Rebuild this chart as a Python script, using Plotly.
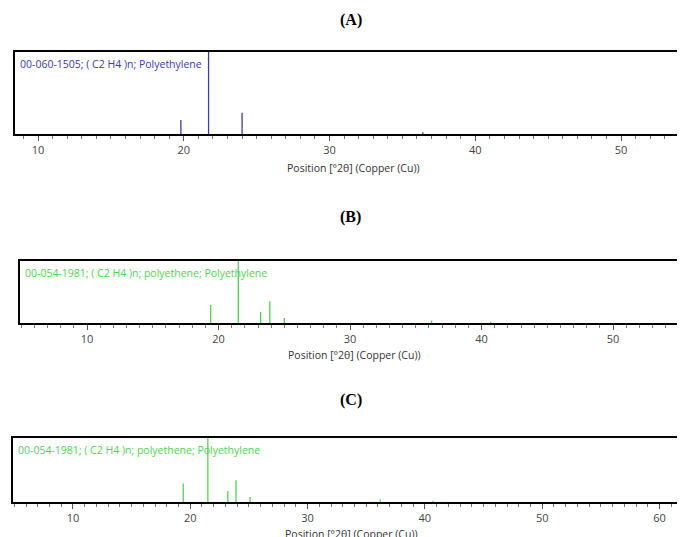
import plotly.graph_objects as go

# peak positions (2theta) and relative intensities
pos_a = [19.8, 21.7, 24.0, 36.4]
int_a = [0.17, 1.0, 0.26, 0.02]
pos_b = [19.4, 21.5, 23.2, 23.9, 25.0, 36.2, 40.7]
int_b = [0.29, 1.0, 0.18, 0.35, 0.08, 0.04, 0.02]
pos_c = [19.4, 21.5, 23.2, 23.9, 25.1, 36.2, 40.7]
int_c = [0.29, 1.0, 0.17, 0.34, 0.08, 0.04, 0.02]

labels = ["00-060-1505; ( C2 H4 )n; Polyethylene",
          "00-054-1981; ( C2 H4 )n; polyethene; Polyethylene",
          "00-054-1981; ( C2 H4 )n; polyethene; Polyethylene"]
titles = ["(A)", "(B)", "(C)"]
colors = ["#3a3ab0", "#4cd64c", "#4cd64c"]

W, H = 685, 537
panels = [
    # box px: x0, x1, y0, y1, xrange, xlabel y, title y
    dict(pos=pos_a, inten=int_a, box=(7, 683, 44, 126), xr=[8.42, 54.8], xl=160, ty=12, dt=10),
    dict(pos=pos_b, inten=int_b, box=(12, 680, 253, 315), xr=[4.9, 55.7], xl=347, ty=209, dt=10),
    dict(pos=pos_c, inten=int_c, box=(5, 682, 430, 494), xr=[4.89, 62.6], xl=526, ty=392, dt=10),
]

fig = go.Figure()
for i, p in enumerate(panels):
    xs, ys = [], []
    for x, y in zip(p["pos"], p["inten"]):
        xs += [x, x, None]
        ys += [0, y, None]
    n = "" if i == 0 else str(i + 1)
    fig.add_trace(go.Scatter(x=xs, y=ys, mode="lines", line=dict(color=colors[i], width=1.3),
                             xaxis="x" + n, yaxis="y" + n, showlegend=False, hoverinfo="skip"))
    x0, x1, y0, y1 = p["box"]
    fig.update_layout(**{
        "xaxis" + n: dict(domain=[x0 / W, x1 / W], range=p["xr"], anchor="y" + n,
                          showline=True, linecolor="black", linewidth=2, mirror=True,
                          showgrid=False, zeroline=False, dtick=p["dt"], tick0=0,
                          ticks="outside", ticklen=5, tickcolor="#555", automargin=False,
                          minor=dict(ticks="outside", ticklen=3, dtick=1, tickcolor="#777"),
                          tickfont=dict(family="Open Sans", size=11, color="#444")),
        "yaxis" + n: dict(domain=[1 - y1 / H, 1 - y0 / H], range=[0, 1.0], anchor="x" + n,
                          showline=True, linecolor="black", linewidth=2, mirror=True, automargin=False,
                          showgrid=False, zeroline=False, showticklabels=False, ticks=""),
    })
    fig.add_annotation(x=x0 / W + 0.004, y=1 - y0 / H - 0.005, xref="paper", yref="paper",
                       xanchor="left", yanchor="top", text=labels[i], showarrow=False,
                       font=dict(family="Open Sans", size=10.5, color=colors[i]))
    fig.add_annotation(x=(x0 + x1) / 2 / W, y=1 - p["xl"] / H, xref="paper", yref="paper",
                       yanchor="middle", text="Position [°2θ] (Copper (Cu))", showarrow=False,
                       font=dict(family="Open Sans", size=10.5, color="#333"))
    fig.add_annotation(x=0.5, y=1 - p["ty"] / H, xref="paper", yref="paper", yanchor="middle",
                       text="<b>" + titles[i] + "</b>", showarrow=False,
                       font=dict(family="Liberation Serif", size=16, color="black"))

fig.update_layout(width=W, height=H, margin=dict(l=0, r=0, t=0, b=0, autoexpand=False),
                  paper_bgcolor="white", plot_bgcolor="white")
fig.write_html("out.html")
